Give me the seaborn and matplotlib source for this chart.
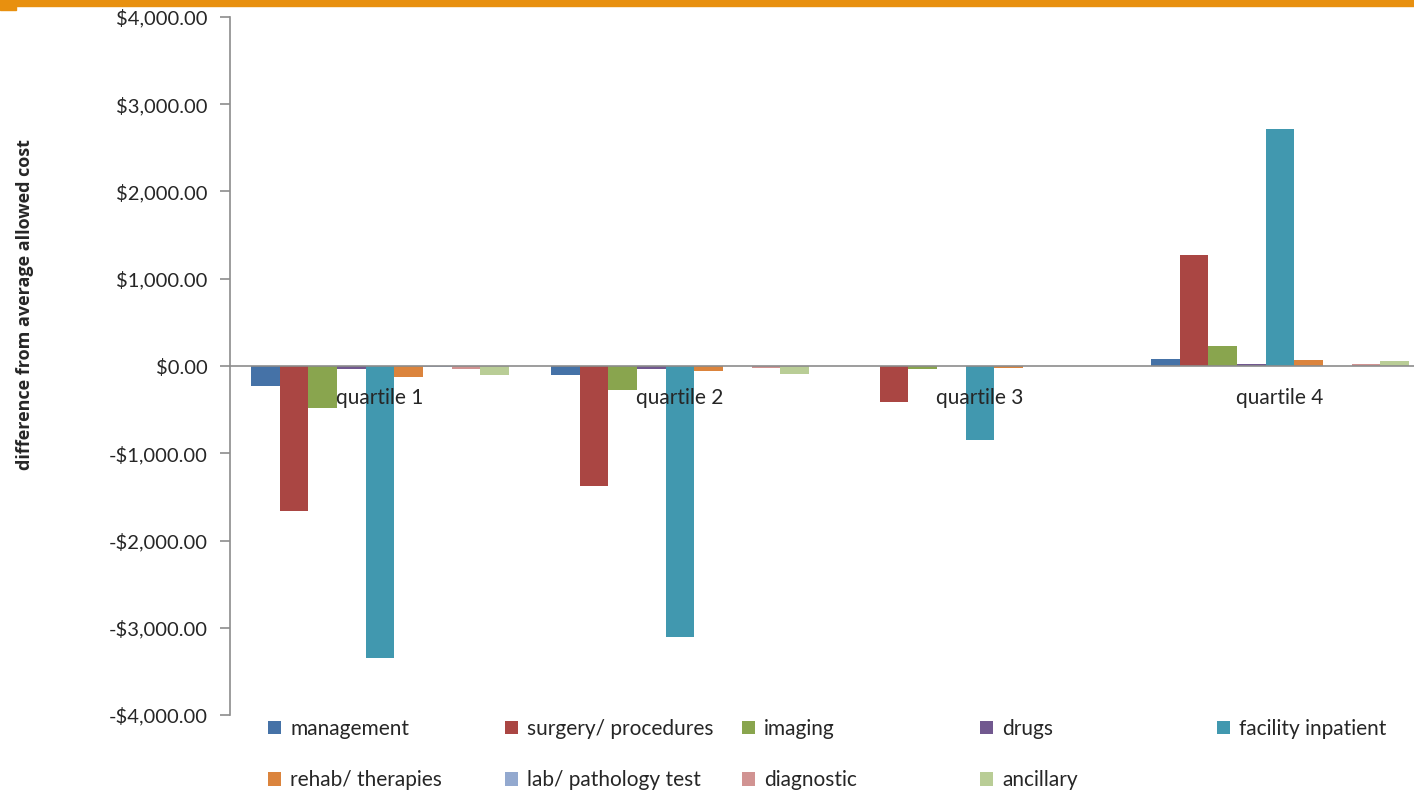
import numpy as np
import pandas as pd
import seaborn as sns
import matplotlib.pyplot as plt
from matplotlib.ticker import FuncFormatter, FixedLocator

quartiles = ["quartile 1", "quartile 2", "quartile 3", "quartile 4"]
categories = ["management", "surgery/ procedures", "imaging", "drugs",
              "facility inpatient", "rehab/ therapies", "lab/ pathology test",
              "diagnostic", "ancillary"]

management = [-229, -100, -5, 80]
surgery = [-1662, -1375, -410, 1272]
imaging = [-481, -275, -30, 229]
drugs = [-40, -40, -3, 25]
facility = [-3347, -3106, -850, 2716]
rehab = [-126, -55, -20, 70]
lab = [-10, -5, -2, 5]
diagnostic = [-30, -20, -3, 25]
ancillary = [-100, -90, -3, 60]

colors = ["#4572A7", "#AA4643", "#89A54E", "#71588F", "#4198AF",
          "#DB843D", "#93A9CF", "#D19392", "#B9CD96"]

series = [management, surgery, imaging, drugs, facility, rehab, lab,
          diagnostic, ancillary]
data = pd.DataFrame(
    [(q, c, v) for c, vals in zip(categories, series) for q, v in zip(quartiles, vals)],
    columns=["quartile", "category", "value"],
)

sns.set_style("white")
plt.rcParams["font.family"] = ["Lato", "DejaVu Sans"]

fig = plt.figure(figsize=(14.14, 7.92), dpi=100)
ax = fig.add_axes([230 / 1414, 1 - 715 / 792, 1200 / 1414, 698 / 792])

sns.barplot(
    data=data,
    x="quartile",
    y="value",
    hue="category",
    hue_order=categories,
    order=quartiles,
    palette=colors,
    width=0.86,
    errorbar=None,
    saturation=1,
    linewidth=0,
    ax=ax,
)

handles, labels = ax.get_legend_handles_labels()
ax.get_legend().remove()

ax.set_xlim(-0.5, 3.5)
ax.set_ylim(-4000, 4000)
ax.yaxis.set_major_locator(FixedLocator(np.arange(-4000, 4001, 1000)))
ax.yaxis.set_major_formatter(
    FuncFormatter(lambda v, _: f"${v:,.2f}" if v >= 0 else f"-${-v:,.2f}")
)

for s in ["top", "right"]:
    ax.spines[s].set_visible(False)
ax.spines["left"].set_color("#8c8c8c")
ax.spines["bottom"].set_color("#8c8c8c")
ax.spines["bottom"].set_position(("data", 0))
ax.spines["left"].set_linewidth(1.2)
ax.spines["bottom"].set_linewidth(1.2)
ax.set_axisbelow(False)

ax.set_xticks([0.5, 1.5, 2.5], minor=True)
ax.tick_params(axis="x", which="minor", length=6, color="#8c8c8c", width=1.2, direction="out")
ax.tick_params(axis="x", which="major", length=0, pad=16, labelsize=15)
ax.tick_params(axis="y", length=7, color="#8c8c8c", width=1.2, direction="out",
               labelsize=14.5, left=True, pad=9)
ax.set_xlabel("")
ax.set_ylabel("")
fig.text(25 / 1414, 1 - 305 / 792, "difference from average allowed cost",
         rotation=90, ha="center", va="center", fontsize=13,
         fontweight="bold", family=["Open Sans", "DejaVu Sans"])

# orange band at top
fig.add_artist(plt.Rectangle((0, 1 - 6 / 792), 1, 6 / 792, color="#E8900F",
                             transform=fig.transFigure, zorder=5))
fig.add_artist(plt.Rectangle((0, 1 - 10 / 792), 16 / 1414, 10 / 792, color="#E8900F",
                             transform=fig.transFigure, zorder=5))

# legend laid out in evenly spaced columns
col_x = [268, 505, 742, 980, 1217]
for j, x in enumerate(col_x):
    idx = [j, j + 5] if j + 5 < len(categories) else [j]
    fig.legend(
        [handles[i] for i in idx],
        [labels[i] for i in idx],
        loc="upper left",
        bbox_to_anchor=(x / 1414, 1 - 719 / 792),
        frameon=False,
        fontsize=15,
        handlelength=0.62,
        handleheight=0.62,
        handletextpad=0.45,
        borderpad=0,
        borderaxespad=0,
        labelspacing=1.5,
    )

fig.savefig("out.png", dpi=100)
